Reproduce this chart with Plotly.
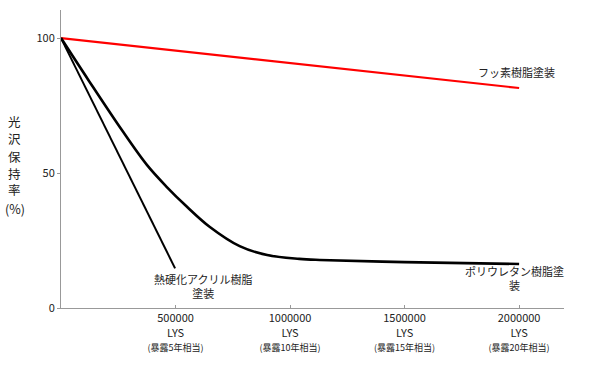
import plotly.graph_objects as go

fluoro_x = [0, 2000000]
fluoro_y = [100, 81.5]
acrylic_x = [0, 498000]
acrylic_y = [100, 14.7]
pu_x = [0, 120000, 265000, 375000, 460000, 550000, 650000, 780000, 900000, 1040000, 1130000, 1500000, 2000000]
pu_y = [100, 84.4, 66, 53, 45, 37.5, 30, 22.9, 19.6, 18.2, 17.8, 17, 16.3]

tick_vals = [500000, 1000000, 1500000, 2000000]
tick_years = ["5", "10", "15", "20"]
tick_text = [f"{v}<br>LYS<br><span style='font-size:9px'>(暴露{y}年相当)</span>" for v, y in zip(tick_vals, tick_years)]

y_title_chars = ["光", "沢", "保", "持", "率", "(%)"]
y_title_pos = [0.626, 0.570, 0.510, 0.453, 0.399, 0.335]

FONT = "Noto Sans CJK JP, Liberation Sans, sans-serif"

fig = go.Figure()
fig.add_trace(go.Scatter(x=fluoro_x, y=fluoro_y, mode="lines", line=dict(color="#ff0000", width=2.2)))
fig.add_trace(go.Scatter(x=acrylic_x, y=acrylic_y, mode="lines", line=dict(color="black", width=2)))
fig.add_trace(go.Scatter(x=pu_x, y=pu_y, mode="lines", line=dict(color="black", width=2.6, shape="spline", smoothing=1.0)))

fig.add_annotation(x=1990000, y=87.5, text="フッ素樹脂塗装", showarrow=False, font=dict(size=11, color="#222"), xanchor="center")
fig.add_annotation(x=620000, y=8, text="熱硬化アクリル樹脂<br>塗装", showarrow=False, font=dict(size=11, color="#222"), xanchor="center", align="center")
fig.add_annotation(x=1980000, y=11, text="ポリウレタン樹脂塗<br>装", showarrow=False, font=dict(size=11, color="#222"), xanchor="center", align="center")
for ch, py in zip(y_title_chars, y_title_pos):
    fig.add_annotation(xref="paper", yref="paper", x=-0.0915, y=py, text=ch, showarrow=False,
                       font=dict(size=12.5, color="#222"), xanchor="center", yanchor="middle",
                       borderpad=0)

fig.update_layout(
    width=593, height=373,
    margin=dict(l=61, r=29, t=10, b=65),
    paper_bgcolor="white", plot_bgcolor="white",
    showlegend=False,
    font=dict(family=FONT, size=11, color="#222"),
    xaxis=dict(range=[0, 2196000], showgrid=False, zeroline=False, showline=True, automargin=False,
               linecolor="#999", linewidth=1, ticks="inside", ticklen=3, tickcolor="#999",
               tickvals=tick_vals, ticktext=tick_text, tickfont=dict(size=11)),
    yaxis=dict(range=[0, 110.4], showgrid=False, zeroline=False, showline=True, automargin=False,
               linecolor="#999", linewidth=1, ticks="outside", ticklen=3, tickcolor="#999",
               tickvals=[0, 50, 100], tickfont=dict(size=11)),
)
fig.write_html("out.html", config={"displayModeBar": False},
               post_script="document.body.style.margin='0';document.body.style.overflow='hidden';")
